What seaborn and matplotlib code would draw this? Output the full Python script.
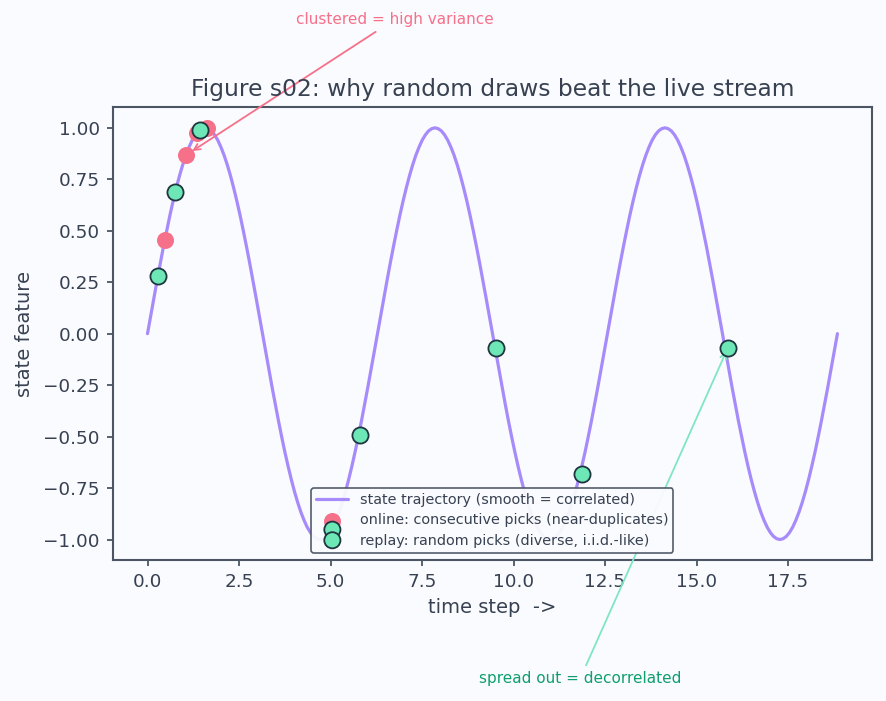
import numpy as np
import pandas as pd
import matplotlib
matplotlib.use("Agg")
import matplotlib.pyplot as plt
import seaborn as sns
from matplotlib.legend_handler import HandlerPathCollection

# ---------------- data ----------------
traj_t = [
    0.000, 0.087, 0.175, 0.262, 0.349, 0.436, 0.524, 0.611, 0.698, 0.785, 0.873, 0.960,
    1.047, 1.134, 1.222, 1.309, 1.396, 1.484, 1.571, 1.658, 1.745, 1.833, 1.920, 2.007,
    2.094, 2.182, 2.269, 2.356, 2.443, 2.531, 2.618, 2.705, 2.793, 2.880, 2.967, 3.054,
    3.142, 3.229, 3.316, 3.403, 3.491, 3.578, 3.665, 3.752, 3.840, 3.927, 4.014, 4.102,
    4.189, 4.276, 4.363, 4.451, 4.538, 4.625, 4.712, 4.800, 4.887, 4.974, 5.061, 5.149,
    5.236, 5.323, 5.411, 5.498, 5.585, 5.672, 5.760, 5.847, 5.934, 6.021, 6.109, 6.196,
    6.283, 6.370, 6.458, 6.545, 6.632, 6.720, 6.807, 6.894, 6.981, 7.069, 7.156, 7.243,
    7.330, 7.418, 7.505, 7.592, 7.679, 7.767, 7.854, 7.941, 8.029, 8.116, 8.203, 8.290,
    8.378, 8.465, 8.552, 8.639, 8.727, 8.814, 8.901, 8.988, 9.076, 9.163, 9.250, 9.338,
    9.425, 9.512, 9.599, 9.687, 9.774, 9.861, 9.948, 10.036, 10.123, 10.210, 10.297, 10.385,
    10.472, 10.559, 10.647, 10.734, 10.821, 10.908, 10.996, 11.083, 11.170, 11.257, 11.345, 11.432,
    11.519, 11.606, 11.694, 11.781, 11.868, 11.956, 12.043, 12.130, 12.217, 12.305, 12.392, 12.479,
    12.566, 12.654, 12.741, 12.828, 12.915, 13.003, 13.090, 13.177, 13.265, 13.352, 13.439, 13.526,
    13.614, 13.701, 13.788, 13.875, 13.963, 14.050, 14.137, 14.224, 14.312, 14.399, 14.486, 14.573,
    14.661, 14.748, 14.835, 14.923, 15.010, 15.097, 15.184, 15.272, 15.359, 15.446, 15.533, 15.621,
    15.708, 15.795, 15.882, 15.970, 16.057, 16.144, 16.232, 16.319, 16.406, 16.493, 16.581, 16.668,
    16.755, 16.842, 16.930, 17.017, 17.104, 17.191, 17.279, 17.366, 17.453, 17.541, 17.628, 17.715,
    17.802, 17.890, 17.977, 18.064, 18.151, 18.239, 18.326, 18.413, 18.500, 18.588, 18.675, 18.762,
    18.850]
traj_y = [
    0.000, 0.087, 0.174, 0.259, 0.342, 0.423, 0.500, 0.574, 0.643, 0.707, 0.766, 0.819,
    0.866, 0.906, 0.940, 0.966, 0.985, 0.996, 1.000, 0.996, 0.985, 0.966, 0.940, 0.906,
    0.866, 0.819, 0.766, 0.707, 0.643, 0.574, 0.500, 0.423, 0.342, 0.259, 0.174, 0.087,
    0.000, -0.087, -0.174, -0.259, -0.342, -0.423, -0.500, -0.574, -0.643, -0.707, -0.766, -0.819,
    -0.866, -0.906, -0.940, -0.966, -0.985, -0.996, -1.000, -0.996, -0.985, -0.966, -0.940, -0.906,
    -0.866, -0.819, -0.766, -0.707, -0.643, -0.574, -0.500, -0.423, -0.342, -0.259, -0.174, -0.087,
    0.000, 0.087, 0.174, 0.259, 0.342, 0.423, 0.500, 0.574, 0.643, 0.707, 0.766, 0.819,
    0.866, 0.906, 0.940, 0.966, 0.985, 0.996, 1.000, 0.996, 0.985, 0.966, 0.940, 0.906,
    0.866, 0.819, 0.766, 0.707, 0.643, 0.574, 0.500, 0.423, 0.342, 0.259, 0.174, 0.087,
    0.000, -0.087, -0.174, -0.259, -0.342, -0.423, -0.500, -0.574, -0.643, -0.707, -0.766, -0.819,
    -0.866, -0.906, -0.940, -0.966, -0.985, -0.996, -1.000, -0.996, -0.985, -0.966, -0.940, -0.906,
    -0.866, -0.819, -0.766, -0.707, -0.643, -0.574, -0.500, -0.423, -0.342, -0.259, -0.174, -0.087,
    0.000, 0.087, 0.174, 0.259, 0.342, 0.423, 0.500, 0.574, 0.643, 0.707, 0.766, 0.819,
    0.866, 0.906, 0.940, 0.966, 0.985, 0.996, 1.000, 0.996, 0.985, 0.966, 0.940, 0.906,
    0.866, 0.819, 0.766, 0.707, 0.643, 0.574, 0.500, 0.423, 0.342, 0.259, 0.174, 0.087,
    0.000, -0.087, -0.174, -0.259, -0.342, -0.423, -0.500, -0.574, -0.643, -0.707, -0.766, -0.819,
    -0.866, -0.906, -0.940, -0.966, -0.985, -0.996, -1.000, -0.996, -0.985, -0.966, -0.940, -0.906,
    -0.866, -0.819, -0.766, -0.707, -0.643, -0.574, -0.500, -0.423, -0.342, -0.259, -0.174, -0.087,
    0.000]

online_t = [0.475, 1.05, 1.35, 1.63]
online_y = [0.457, 0.867, 0.976, 0.998]

replay_t = [0.283, 0.757, 1.44, 5.81, 9.52, 11.87, 15.85]
replay_y = [0.279, 0.687, 0.991, -0.494, -0.072, -0.681, -0.072]

labels = ["state trajectory (smooth = correlated)",
          "online: consecutive picks (near-duplicates)",
          "replay: random picks (diverse, i.i.d.-like)"]
title = "Figure s02: why random draws beat the live stream"
xlabel = "time step  ->"
ylabel = "state feature"
note_online = "clustered = high variance"
note_replay = "spread out = decorrelated"

# ---------------- style ----------------
BG = "#fafbfe"
TXT = "#374151"
SPINE = "#4b5563"
C_LINE = "#a78bfa"
C_ON = "#f7708a"
C_RE = "#6ee7b7"
C_EDGE = "#1f3540"

sns.set_style("ticks")
plt.rcParams.update({
    "font.family": ["DejaVu Sans"],
    "text.color": TXT,
    "axes.labelcolor": TXT,
    "xtick.color": SPINE,
    "ytick.color": SPINE,
    "xtick.labelcolor": TXT,
    "ytick.labelcolor": TXT,
    "axes.edgecolor": SPINE,
})

fig = plt.figure(figsize=(8.87, 7.01), dpi=100, facecolor=BG)
ax = fig.add_axes([0.1274, 0.201, 0.8556, 0.646])
ax.set_facecolor(BG)

df_traj = pd.DataFrame({"t": traj_t, "y": traj_y})
df_on = pd.DataFrame({"t": online_t, "y": online_y})
df_re = pd.DataFrame({"t": replay_t, "y": replay_y})

sns.lineplot(data=df_traj, x="t", y="y", ax=ax, color=C_LINE, lw=2.3,
             label=labels[0], sort=False, zorder=2)
sns.scatterplot(data=df_on, x="t", y="y", ax=ax, color=C_ON, s=150,
                linewidth=0, label=labels[1], zorder=3)
sns.scatterplot(data=df_re, x="t", y="y", ax=ax, color=C_RE, s=135,
                edgecolor=C_EDGE, linewidth=1.3, label=labels[2], zorder=4)

for s in ax.spines.values():
    s.set_visible(True)
    s.set_linewidth(1.5)
    s.set_color(SPINE)

ax.tick_params(axis="both", labelsize=13.2, length=4.5, width=1.3, pad=5)
ax.set_xticks([0, 2.5, 5, 7.5, 10, 12.5, 15, 17.5])
ax.set_yticks([1.0, 0.75, 0.5, 0.25, 0.0, -0.25, -0.5, -0.75, -1.0])
ax.set_xlabel(xlabel, fontsize=14, labelpad=5)
ax.set_ylabel(ylabel, fontsize=14, labelpad=7)
ax.set_title(title, fontsize=16.8, color=TXT, pad=8)

ax.annotate(note_online, xy=(1.16, 0.88), xytext=(6.75, 1.526),
            textcoords="data", fontsize=11, color=C_ON, ha="center", va="center",
            annotation_clip=False,
            arrowprops=dict(arrowstyle="->", color=C_ON, lw=1.3))
ax.annotate(note_replay, xy=(15.85, -0.072), xytext=(11.82, -1.676),
            textcoords="data", fontsize=11, color="#0f9e6e", ha="center", va="center",
            annotation_clip=False,
            arrowprops=dict(arrowstyle="->", color="#7fe6c2", lw=1.3))


class StackedHandler(HandlerPathCollection):
    def get_xdata(self, legend, xdescent, ydescent, width, height, fontsize):
        xm = -xdescent + 0.5 * width
        return [xm, xm], [xm, xm]


handles, labs = ax.get_legend_handles_labels()
re_handle = [h for h, l in zip(handles, labs) if l == labels[2]][0]
leg = ax.legend(handles, labs, loc="lower center", fontsize=10.4, frameon=True,
                facecolor=BG, edgecolor=SPINE, framealpha=0.95,
                handlelength=2.2, borderpad=0.35, labelspacing=0.45,
                handler_map={re_handle: StackedHandler(numpoints=2, yoffsets=[1.5, 0.45])})
leg.get_frame().set_linewidth(1.2)
leg.set_zorder(6)
for t in leg.get_texts():
    t.set_color(TXT)

fig.savefig("out.png", dpi=100, facecolor=BG)
